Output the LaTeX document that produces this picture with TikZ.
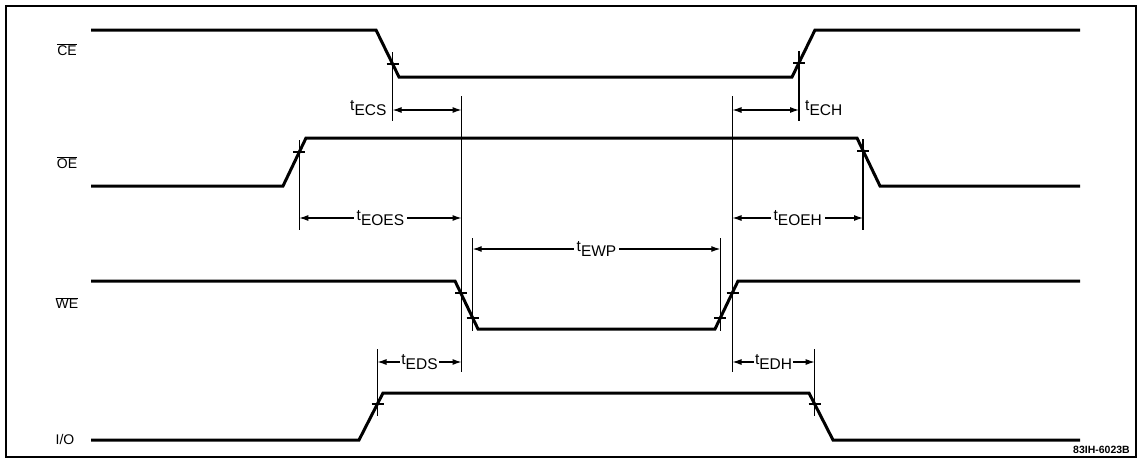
\documentclass[tikz,border=0pt]{standalone}
\usepackage{fontspec}
\setmainfont{Liberation Sans}
\usetikzlibrary{arrows.meta}
\newcommand\tlab[1]{t\raisebox{-5pt}{#1}}
\newcommand\ovl[1]{$\overline{\hbox{#1}}$}
\tikzset{
  sig/.style={line width=3pt, line join=miter},
  guide/.style={line width=1.1pt},
  tickmark/.style={line width=1.1pt},
  dim/.style={line width=1.1pt, {Latex[length=9pt,width=6pt]}-{Latex[length=9pt,width=6pt]}},
  lab/.style={font=\fontsize{15.5}{18}\selectfont, inner sep=1pt},
  dimlab/.style={lab, fill=white, inner xsep=3pt},
  siglab/.style={font=\fontsize{14}{16}\selectfont, inner sep=0pt}
}
\begin{document}
\begin{tikzpicture}[x=1pt,y=-1pt]
\useasboundingbox (0,0) rectangle (1142,461);
\draw[line width=2pt] (6,6) rectangle (1136,457);

% signal labels
\node[siglab] (lce) at (67,50) {\ovl{CE}};
\node[siglab] (loe) at (67,163) {\ovl{OE}};
\node[siglab] (lwe) at (67,303) {\ovl{WE}};
\node[siglab] (lio) at (65,439) {I/O};

% waveforms
\coordinate (ce0) at (91,30);   \coordinate (ce1) at (376,30);
\coordinate (ce2) at (399,77);  \coordinate (ce3) at (792,77);
\coordinate (ce4) at (815,30);  \coordinate (ce5) at (1080,30);
\draw[sig] (ce0) -- (ce1) -- (ce2) -- (ce3) -- (ce4) -- (ce5);

\coordinate (oe0) at (91,186);  \coordinate (oe1) at (283,186);
\coordinate (oe2) at (306,138); \coordinate (oe3) at (857,138);
\coordinate (oe4) at (880,186); \coordinate (oe5) at (1080,186);
\draw[sig] (oe0) -- (oe1) -- (oe2) -- (oe3) -- (oe4) -- (oe5);

\coordinate (we0) at (91,281);  \coordinate (we1) at (455,281);
\coordinate (we2) at (478,329); \coordinate (we3) at (715,329);
\coordinate (we4) at (738,281); \coordinate (we5) at (1080,281);
\draw[sig] (we0) -- (we1) -- (we2) -- (we3) -- (we4) -- (we5);

\coordinate (io0) at (91,440);  \coordinate (io1) at (359,440);
\coordinate (io2) at (383,393); \coordinate (io3) at (809,393);
\coordinate (io4) at (833,440); \coordinate (io5) at (1080,440);
\draw[sig] (io0) -- (io1) -- (io2) -- (io3) -- (io4) -- (io5);

% tick points
\coordinate (tA) at (392.6,64);   % CE fall
\coordinate (tB) at (799,63);     % CE rise
\coordinate (tC) at (299.3,152);  % OE rise
\coordinate (tD) at (863,151);    % OE fall
\coordinate (tE) at (461,293);    % WE fall upper
\coordinate (tF) at (472.7,318);  % WE fall lower
\coordinate (tG) at (720.3,318);  % WE rise lower
\coordinate (tH) at (732.5,293);  % WE rise upper
\coordinate (tI) at (377.5,404);  % IO rise
\coordinate (tJ) at (814.6,404);  % IO fall
\foreach \p in {tA,tB,tC,tD,tE,tF,tG,tH,tI,tJ}
  \draw[tickmark] ([xshift=-6pt]\p) -- ([xshift=6pt]\p);

% guide lines
\coordinate (gA1) at (392.6,52);  \coordinate (gA2) at (392.6,121);
\coordinate (gB1) at (799,51);    \coordinate (gB2) at (799,121);
\coordinate (gC1) at (299.3,140); \coordinate (gC2) at (299.3,230);
\coordinate (gD1) at (863,139);   \coordinate (gD2) at (863,230);
\coordinate (gE1) at (461.5,96);  \coordinate (gE2) at (461.5,372);
\coordinate (gF1) at (472.7,238); \coordinate (gF2) at (472.7,331);
\coordinate (gG1) at (720.3,238); \coordinate (gG2) at (720.3,331);
\coordinate (gH1) at (732.5,96);  \coordinate (gH2) at (732.5,372);
\coordinate (gI1) at (377.5,349); \coordinate (gI2) at (377.5,416);
\coordinate (gJ1) at (814.6,349); \coordinate (gJ2) at (814.6,416);
\foreach \a in {A,B,C,D,E,F,G,H,I,J}
  \draw[guide] (g\a1) -- (g\a2);

% dimension arrows
\coordinate (dA) at (392.6,110); \coordinate (dE1) at (461.5,110);
\draw[dim] (dA) -- (dE1);
\node[lab, anchor=east] (ecs) at ([xshift=-5pt,yshift=2pt]dA) {\tlab{ECS}};

\coordinate (dH1) at (732.5,110); \coordinate (dB) at (799,110);
\draw[dim] (dH1) -- (dB);
\node[lab, anchor=west] (ech) at ([xshift=5pt,yshift=2pt]dB) {\tlab{ECH}};

\coordinate (dC) at (299.3,218); \coordinate (dE2) at (461.5,218);
\draw[dim] (dC) -- node[dimlab] (eoes) {\tlab{EOES}} (dE2);

\coordinate (dH2) at (732.5,218); \coordinate (dD) at (863,218);
\draw[dim] (dH2) -- node[dimlab] (eoeh) {\tlab{EOEH}} (dD);

\coordinate (dF) at (472.7,249); \coordinate (dG) at (720.3,249);
\draw[dim] (dF) -- node[dimlab] (ewp) {\tlab{EWP}} (dG);

\coordinate (dI) at (377.5,362); \coordinate (dE3) at (461.5,362);
\draw[dim] (dI) -- node[dimlab, inner xsep=1pt] (eds) {\tlab{EDS}} (dE3);

\coordinate (dH3) at (732.5,362); \coordinate (dJ) at (814.6,362);
\draw[dim] (dH3) -- node[dimlab, inner xsep=1pt] (edh) {\tlab{EDH}} (dJ);

\node[font=\bfseries\fontsize{10.5}{12}\selectfont, anchor=base east, inner sep=0pt] (fig) at (1130,453) {83IH-6023B};
\end{tikzpicture}
\end{document}
